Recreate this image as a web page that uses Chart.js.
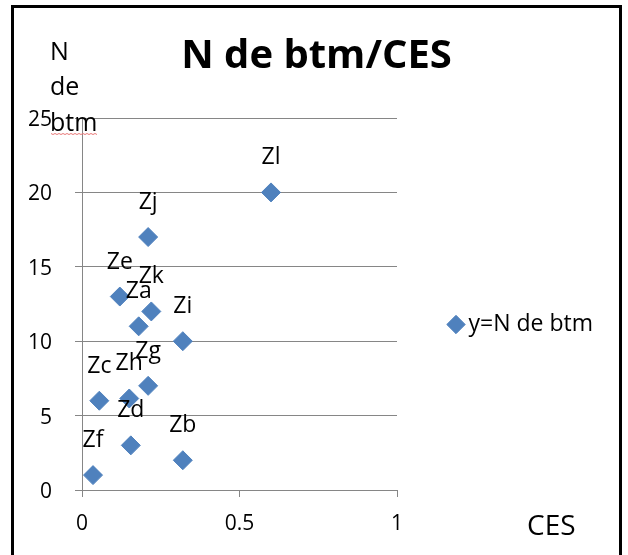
<!DOCTYPE html>
<html>
<head>
<meta charset="utf-8">
<title>N de btm/CES</title>
<script src="https://cdn.jsdelivr.net/npm/chart.js@4/dist/chart.umd.min.js"></script>
<style>
  html, body { margin: 0; padding: 0; background: #ffffff; overflow: hidden; }
  #wrap { position: relative; width: 628px; height: 555px; }
  #wrap canvas { position: absolute; left: 0; top: 0; }
  #frame { position: absolute; left: 11px; top: 5px; width: 605px; height: 600px;
           border: 3px solid #000; pointer-events: none; }
</style>
</head>
<body>
<div id="wrap">
  <canvas id="chart" width="628" height="555"></canvas>
  <div id="frame"></div>
</div>
<script>
// Buildings (Za..Zl): CES on x, number of buildings on y
const pointNames = ['Za', 'Zb', 'Zc', 'Zd', 'Ze', 'Zf', 'Zg', 'Zh', 'Zi', 'Zj', 'Zk', 'Zl'];
const cesValues  = [0.18, 0.32, 0.055, 0.155, 0.12, 0.035, 0.21, 0.15, 0.32, 0.21, 0.22, 0.6];
const btmValues  = [11, 2, 6, 3, 13, 1, 7, 6.15, 10, 17, 12, 20];

const xTicks = [0, 0.5, 1];
const yTicks = [0, 5, 10, 15, 20, 25];

const chartTitle = 'N de btm/CES';
const seriesName = 'y=N de btm';
const yAxisTitleLines = ['N', 'de', 'btm'];
const xAxisTitle = 'CES';

const FONT = "'Open Sans', 'Liberation Sans', sans-serif";
const GRID = '#868686';
const MARKER = '#4F81BD';

// Labels written above each marker
const pointLabels = {
  id: 'pointLabels',
  afterDatasetsDraw(chart) {
    const ctx = chart.ctx;
    const meta = chart.getDatasetMeta(0);
    ctx.save();
    ctx.font = "23px " + FONT;
    ctx.fillStyle = '#000';
    ctx.textAlign = 'center';
    ctx.textBaseline = 'alphabetic';
    meta.data.forEach((pt, i) => {
      ctx.fillText(pointNames[i], pt.x, pt.y - 28);
    });
    ctx.restore();
  }
};

// Horizontal axis titles: stacked "N de btm" at top-left, "CES" right of the x axis
const axisTitles = {
  id: 'axisTitles',
  afterDraw(chart) {
    const ctx = chart.ctx;
    const area = chart.chartArea;
    ctx.save();
    ctx.fillStyle = '#000';
    ctx.textAlign = 'left';
    ctx.textBaseline = 'alphabetic';
    ctx.font = "25px " + FONT;
    const x0 = area.left - 32;
    const baselines = [area.top - 58, area.top - 23, area.top + 13];
    yAxisTitleLines.forEach((t, i) => ctx.fillText(t, x0, baselines[i]));
    // spell-check squiggle under the last word
    const w = ctx.measureText(yAxisTitleLines[2]).width;
    ctx.strokeStyle = '#e87878';
    ctx.lineWidth = 1;
    ctx.beginPath();
    const sy = area.top + 15.5;
    for (let x = x0 + 1, k = 0; x <= x0 + w + 1; x += 2, k++) {
      const y = sy + (k % 2 ? 1 : 0);
      if (k === 0) ctx.moveTo(x, y); else ctx.lineTo(x, y);
    }
    ctx.stroke();
    ctx.font = "28px " + FONT;
    ctx.fillText(xAxisTitle, area.right + 130, area.bottom + 45);
    ctx.restore();
  }
};

// Title centred over the whole frame, legend to the right of the plot
const placeBlocks = {
  id: 'placeBlocks',
  afterLayout(chart) {
    const area = chart.chartArea;
    const t = chart.titleBlock;
    t.left = 5; t.right = chart.width;
    const lg = chart.legend;
    lg.left = area.right + 48;
    lg.right = chart.width;
    lg.top = (area.top + area.bottom) / 2 - 1;
    lg.bottom = lg.top + 46;
    lg.width = lg.right - lg.left;
    lg.height = lg.bottom - lg.top;
  }
};

new Chart(document.getElementById('chart'), {
  type: 'scatter',
  data: {
    datasets: [{
      label: seriesName,
      data: cesValues.map((x, i) => ({ x: x, y: btmValues[i] })),
      pointStyle: 'rectRot',
      pointRadius: 9.5,
      pointHoverRadius: 9.5,
      backgroundColor: MARKER,
      borderColor: MARKER,
      borderWidth: 1,
      showLine: false
    }]
  },
  options: {
    responsive: false,
    animation: false,
    devicePixelRatio: 1,
    events: [],
    layout: { padding: { left: 0, right: 231, top: 0, bottom: 0 } },
    scales: {
      x: {
        type: 'linear',
        min: 0, max: 1,
        afterBuildTicks: s => { s.ticks = xTicks.map(v => ({ value: v })); },
        afterFit: s => { s.height = 65; },
        ticks: { color: '#000', padding: 14, font: { family: FONT, size: 21 }, maxRotation: 0,
                 callback: v => String(v) },
        grid: { drawOnChartArea: false, drawTicks: true, tickLength: 7, color: GRID, lineWidth: 1 },
        border: { display: true, color: GRID, width: 1 }
      },
      y: {
        type: 'linear',
        min: 0, max: 25,
        afterBuildTicks: s => { s.ticks = yTicks.map(v => ({ value: v })); },
        afterFit: s => { s.width = 82; },
        ticks: { color: '#000', padding: 23, labelOffset: 2, font: { family: FONT, size: 21 },
                 callback: v => String(v) },
        grid: { drawTicks: true, tickLength: 7, color: GRID, lineWidth: 1 },
        border: { display: true, color: GRID, width: 1 }
      }
    },
    plugins: {
      title: {
        display: true,
        text: chartTitle,
        color: '#000',
        font: { family: FONT, size: 40, weight: 'bold', lineHeight: 1.2 },
        padding: { top: 32.6, bottom: 37.4 }
      },
      legend: {
        display: true,
        position: 'chartArea',
        align: 'start',
        labels: {
          usePointStyle: true,
          boxWidth: 2,
          boxHeight: 13,
          padding: 10,
          color: '#000',
          font: { family: FONT, size: 23 }
        }
      },
      tooltip: { enabled: false }
    }
  },
  plugins: [placeBlocks, pointLabels, axisTitles]
});
</script>
</body>
</html>
